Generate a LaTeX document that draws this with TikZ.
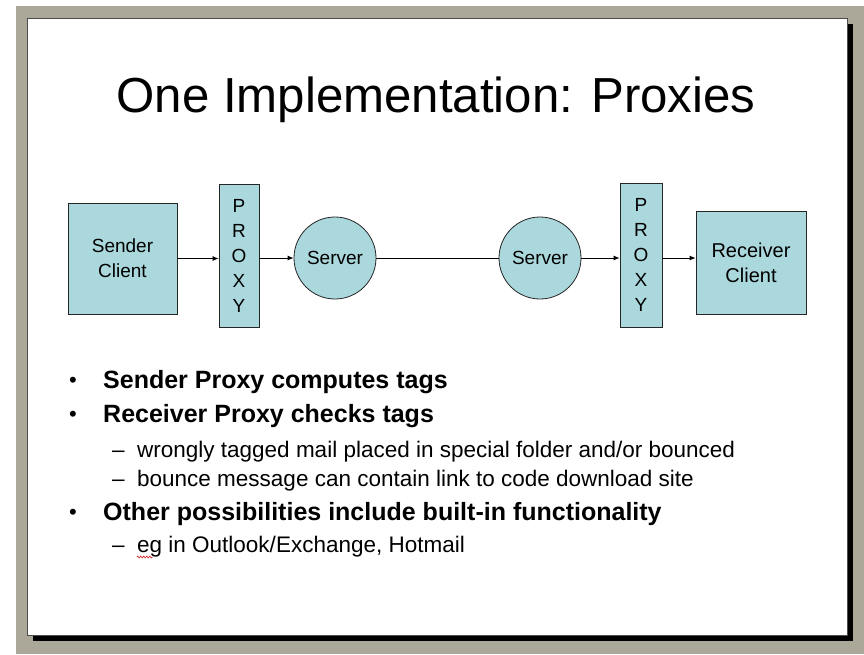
\documentclass[tikz,border=0pt]{standalone}
\usepackage{fontspec}
\setmainfont{Liberation Sans}
\usetikzlibrary{arrows.meta,decorations.pathmorphing}
\definecolor{slidegray}{RGB}{172,168,153}
\definecolor{boxfill}{RGB}{170,216,221}
\tikzset{
	block/.style={draw=black!85, fill=boxfill, line width=0.8pt, inner sep=0pt, align=center, font=\fontsize{19}{25}\selectfont},
	srv/.style={block, circle, minimum size=82pt},
	link/.style={line width=0.8pt, -{Latex[length=6pt,width=5pt]}},
	topitem/.style={anchor=base west, inner sep=0pt, font=\bfseries\fontsize{25}{30}\selectfont},
	subitem/.style={anchor=base west, inner sep=0pt, font=\fontsize{22.5}{26}\selectfont},
	dot/.style={anchor=base, inner sep=0pt, font=\fontsize{22}{24}\selectfont},
}

\begin{document}
\begin{tikzpicture}[x=1pt, y=-1pt]
				%%%%% START %%%%%
				\useasboundingbox (0, 0) rectangle (864, 654);
				\fill[white] (0, 0) rectangle (864, 654);
				\fill[slidegray] (16, 6) rectangle (864, 654);
				\fill[black] (33, 24) rectangle (853, 641);
				\draw[fill=white, draw=black!70, line width=0.8pt] (27, 18) rectangle (847, 635);
				
				\node[anchor=base, font=\fontsize{49.2}{56}\selectfont] (title) at (436, 112.7) {One Implementation: Proxies};
				
				\node[block, minimum width=109pt, minimum height=111pt] (sender) at (122.5, 258.5) {Sender\\Client};
				\node[block, minimum width=40pt, minimum height=143pt] (proxyA) at (239, 255.5) {P\\R\\O\\X\\Y};
				\node[srv] (serverA) at (335, 258) {Server};
				\node[srv] (serverB) at (540, 258) {Server};
				\node[block, minimum width=42pt, minimum height=144pt] (proxyB) at (641, 255) {P\\R\\O\\X\\Y};
				\node[block, minimum width=110pt, minimum height=103pt, font=\fontsize{20}{25}\selectfont] (receiver) at (751, 262.5) {Receiver\\Client};
				
				\draw[link] (sender.east) -- (sender.east -| proxyA.west);
				\draw[link] (proxyA.east |- serverA) -- (serverA.west);
				\draw[line width=0.8pt] (serverA.east) -- (serverB.west);
				\draw[link] (serverB.east) -- (serverB.east -| proxyB.west);
				\draw[link] (proxyB.east |- serverB) -- (receiver.west |- serverB);
				
				\node[dot] (dotA) at (73, 387) {•};
				\node[topitem] (tags) at (103, 388) {Sender Proxy computes tags};
				\node[dot] (dotB) at (73, 421) {•};
				\node[topitem] (checks) at (103, 422) {Receiver Proxy checks tags};
				\node[subitem] (dashA) at (112, 457) {–};
				\node[subitem] (wrong) at (137, 457) {wrongly tagged mail placed in special folder and/or bounced};
				\node[subitem] (dashB) at (112, 486) {–};
				\node[subitem] (bounce) at (137, 486) {bounce message can contain link to code download site};
				\node[dot] (dotC) at (73, 519) {•};
				\node[topitem] (other) at (103, 520) {Other possibilities include built-in functionality};
				\node[subitem] (dashC) at (112, 552) {–};
				\node[subitem] (eg) at (137, 552) {eg in Outlook/Exchange, Hotmail};
				\draw[red!80!black, line width=0.5pt, decorate, decoration={zigzag, segment length=3pt, amplitude=1pt}] (137, 557) -- (153, 557);
				%%%%% END %%%%%
\end{tikzpicture}
\end{document}
